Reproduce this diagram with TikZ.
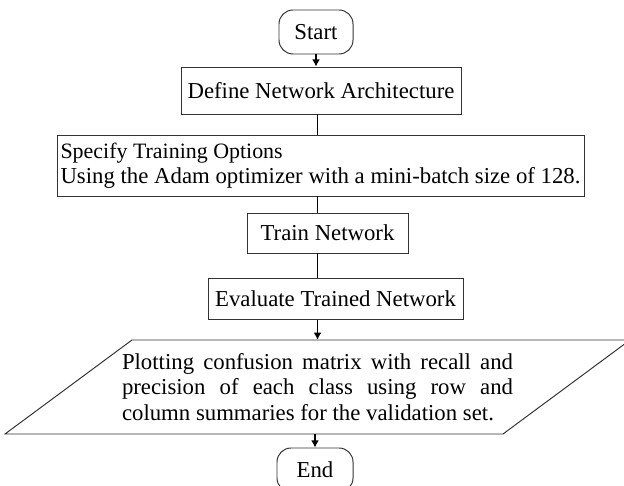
\documentclass[tikz,border=0pt]{standalone}
\usepackage{fontspec}
\setmainfont{Liberation Serif}
\usetikzlibrary{arrows.meta}
\begin{document}
\begin{tikzpicture}[>={Latex[length=5pt,width=5.5pt]},
  box/.style={draw=black!80, line width=0.7pt, inner sep=0pt, align=center},
  term/.style={box, rounded corners=0.35cm},
  flow/.style={line width=0.8pt},
  font=\fontsize{16.2}{18}\selectfont]
 \useasboundingbox (0,0) rectangle (15.6,12.125);
 \node[term, minimum width=1.85cm, minimum height=1.1cm] (start) at (7.9,11.325) {Start};
 \node[box, minimum width=7cm, minimum height=1.175cm] (define) at (8.025,9.8625) {Define Network Architecture};
 \node[box, minimum width=13.175cm, minimum height=1.525cm, align=left] (spec) at (8.0125,7.9875)
   {\fontsize{15.6}{20.5}\selectfont Specify Training Options\\Using the Adam optimizer with a mini-batch size of 128.};
 \node[box, minimum width=4.025cm, minimum height=1cm] (train) at (8.1875,6.3) {Train Network};
 \node[box, minimum width=6.375cm, minimum height=1.025cm] (eval) at (8.3875,4.65) {Evaluate Trained Network};
 \draw[draw=black!80, line width=0.7pt] (0.125,1.275) -- (12.575,1.275) -- (15.75,3.625) -- (3.3,3.625) -- cycle;
 \node[text width=9.775cm, minimum height=2.35cm, inner sep=0pt, align=justify] (plot) at (7.9375,2.45)
   {Plotting confusion matrix with recall and\linebreak precision of each class using row and\linebreak column summaries for the validation set.};
 \node[term, minimum width=1.9cm, minimum height=1.1cm] (end) at (7.875,0.375) {End};
 \draw[flow, ->] (start) -- (start |- define.north);
 \draw[flow] (define.south -| plot.north) -- (spec.north -| plot.north);
 \draw[flow] (spec.south -| plot.north) -- (train.north -| plot.north);
 \draw[flow] (train.south -| plot.north) -- (eval.north -| plot.north);
 \draw[flow, ->] (eval.south -| plot.north) -- (plot.north);
 \draw[flow, ->] (plot.south -| end) -- (end);
\end{tikzpicture}
\end{document}
